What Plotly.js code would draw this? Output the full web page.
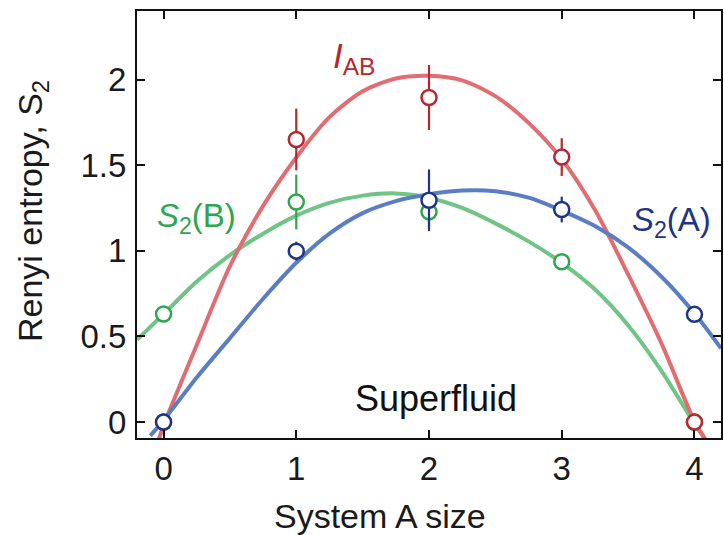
<!DOCTYPE html>
<html>
<head>
<meta charset="utf-8">
<script src="https://cdn.plot.ly/plotly-3.0.1.min.js"></script>
<style>
  html, body { margin: 0; padding: 0; background: #fff; }
  #chart { width: 724px; height: 535px; }
</style>
</head>
<body>
<div id="chart"></div>
<script>
// Subsystem sizes (number of sites in A)
const sizes = [0, 1, 2, 3, 4];

// Mutual information I_AB with uncertainties
const iab = [0, 1.65, 1.895, 1.547, 0];
const iabErr = [0, 0.18, 0.19, 0.11, 0];

// Second-order Renyi entropy of subsystem A
const s2a = [0, 0.998, 1.295, 1.241, 0.629];
const s2aErr = [0, 0.055, 0.18, 0.075, 0];

// Second-order Renyi entropy of subsystem B
const s2b = [0.631, 1.285, 1.227, 0.936, 0];
const s2bErr = [0, 0.16, 0.09, 0, 0];

// Smooth guide curves through each data set
const iabFitX = [-0.04, 0, 0.25, 0.5, 0.75, 1.0, 1.25, 1.5, 1.75, 2.0, 2.25, 2.5, 2.75, 3.0, 3.25, 3.5, 3.75, 4.0, 4.1];
const iabFitY = [-0.11, -0.02, 0.45, 0.91, 1.262, 1.545, 1.78, 1.931, 2.006, 2.022, 1.995, 1.903, 1.747, 1.535, 1.24, 0.862, 0.462, 0.005, -0.12];

const s2aFitX = [-0.1, 0, 0.25, 0.5, 0.75, 1.0, 1.25, 1.5, 1.75, 2.0, 2.25, 2.5, 2.75, 3.0, 3.25, 3.5, 3.75, 4.0, 4.2];
const s2aFitY = [-0.08, 0.01, 0.26, 0.49, 0.72, 0.93, 1.10, 1.22, 1.29, 1.33, 1.352, 1.348, 1.31, 1.235, 1.145, 1.02, 0.85, 0.635, 0.43];

const s2bFitX = [-0.2, 0, 0.25, 0.5, 0.75, 1.0, 1.25, 1.5, 1.75, 2.0, 2.25, 2.5, 2.75, 3.0, 3.25, 3.5, 3.75, 4.0, 4.07];
const s2bFitY = [0.48, 0.63, 0.82, 0.975, 1.10, 1.205, 1.28, 1.322, 1.335, 1.31, 1.25, 1.16, 1.055, 0.93, 0.775, 0.565, 0.30, -0.01, -0.09];

// Axis tick labels
const xTicks = [0, 1, 2, 3, 4];
const xTickText = ['0', '1', '2', '3', '4'];
const yTicks = [0, 0.5, 1, 1.5, 2];
const yTickText = ['0', '0.5', '1', '1.5', '2'];

const RED = '#b8262e', RED_LINE = '#e16d72';
const BLUE = '#1e3587', BLUE_LINE = '#5b7ec3';
const GREEN = '#2ea64d', GREEN_LINE = '#70c485';
const INK = '#1a1a1a';
const FONT = '"Liberation Sans", Arial, Helvetica, sans-serif';

function fitTrace(x, y, color) {
  return {
    x: x, y: y, type: 'scatter', mode: 'lines',
    line: { color: color, width: 4, shape: 'spline', smoothing: 0.8 },
    hoverinfo: 'skip', showlegend: false
  };
}

function dataTrace(y, err, color) {
  return {
    x: sizes, y: y, type: 'scatter', mode: 'markers',
    marker: { symbol: 'circle', size: 15, color: '#ffffff', line: { color: color, width: 2.5 } },
    error_y: { type: 'data', array: err, visible: true, width: 0, thickness: 2.2, color: color },
    cliponaxis: false, showlegend: false
  };
}

const traces = [
  fitTrace(s2bFitX, s2bFitY, GREEN_LINE),
  fitTrace(iabFitX, iabFitY, RED_LINE),
  fitTrace(s2aFitX, s2aFitY, BLUE_LINE),
  dataTrace(s2b, s2bErr, GREEN),
  dataTrace(iab, iabErr, RED),
  dataTrace(s2a, s2aErr, BLUE)
];

const axisCommon = {
  showgrid: false, zeroline: false,
  showline: true, linecolor: '#111', linewidth: 2, mirror: 'ticks',
  ticks: 'inside', ticklen: 8, tickwidth: 2, tickcolor: '#111',
  tickfont: { family: FONT, size: 33, color: INK }
};

const layout = {
  width: 724, height: 535,
  margin: { l: 137, r: 3, t: 11, b: 97 },
  paper_bgcolor: '#ffffff', plot_bgcolor: '#ffffff',
  font: { family: FONT, color: INK },
  xaxis: Object.assign({}, axisCommon, {
    range: [-0.2, 4.2], tickvals: xTicks, ticktext: xTickText
  }),
  yaxis: Object.assign({}, axisCommon, {
    range: [-0.093, 2.4], tickvals: yTicks, ticktext: yTickText,
    ticklabelstandoff: 2
  }),
  annotations: [
    // axis titles
    { x: 380, y: 535 - 516, xref: 'paper', yref: 'paper', text: 'System A size', showarrow: false,
      font: { family: FONT, size: 34, color: INK }, xanchor: 'center', yanchor: 'middle' },
    { x: 33, y: 535 - 211, xref: 'paper', yref: 'paper', text: 'Renyi entropy, S<sub>2</sub>', showarrow: false,
      textangle: -90, font: { family: FONT, size: 34, color: INK }, xanchor: 'center', yanchor: 'middle' },
    // series labels
    { x: 1.434, y: 2.125, xref: 'x', yref: 'y', text: '<i>I</i><sub>AB</sub>', showarrow: false,
      font: { family: FONT, size: 35, color: RED }, xanchor: 'center', yanchor: 'middle' },
    { x: 0.246, y: 1.19, xref: 'x', yref: 'y', text: '<i>S</i><sub>2</sub>(B)', showarrow: false,
      font: { family: FONT, size: 33, color: GREEN }, xanchor: 'center', yanchor: 'middle' },
    { x: 3.825, y: 1.17, xref: 'x', yref: 'y', text: '<i>S</i><sub>2</sub>(A)', showarrow: false,
      font: { family: FONT, size: 33, color: BLUE }, xanchor: 'center', yanchor: 'middle' },
    { x: 2.05, y: 0.136, xref: 'x', yref: 'y', text: 'Superfluid', showarrow: false,
      font: { family: FONT, size: 36, color: '#111' }, xanchor: 'center', yanchor: 'middle' }
  ]
};

// axis-title annotations are placed in pixel terms, converted to paper fractions
const plotW = 724 - layout.margin.l - layout.margin.r;
const plotH = 535 - layout.margin.t - layout.margin.b;
layout.annotations.forEach(a => {
  if (a.xref === 'paper') {
    a.x = (a.x - layout.margin.l) / plotW;
    a.y = (a.y - layout.margin.b) / plotH;
  }
});

Plotly.newPlot('chart', traces, layout, { displayModeBar: false, staticPlot: true });
</script>
</body>
</html>
